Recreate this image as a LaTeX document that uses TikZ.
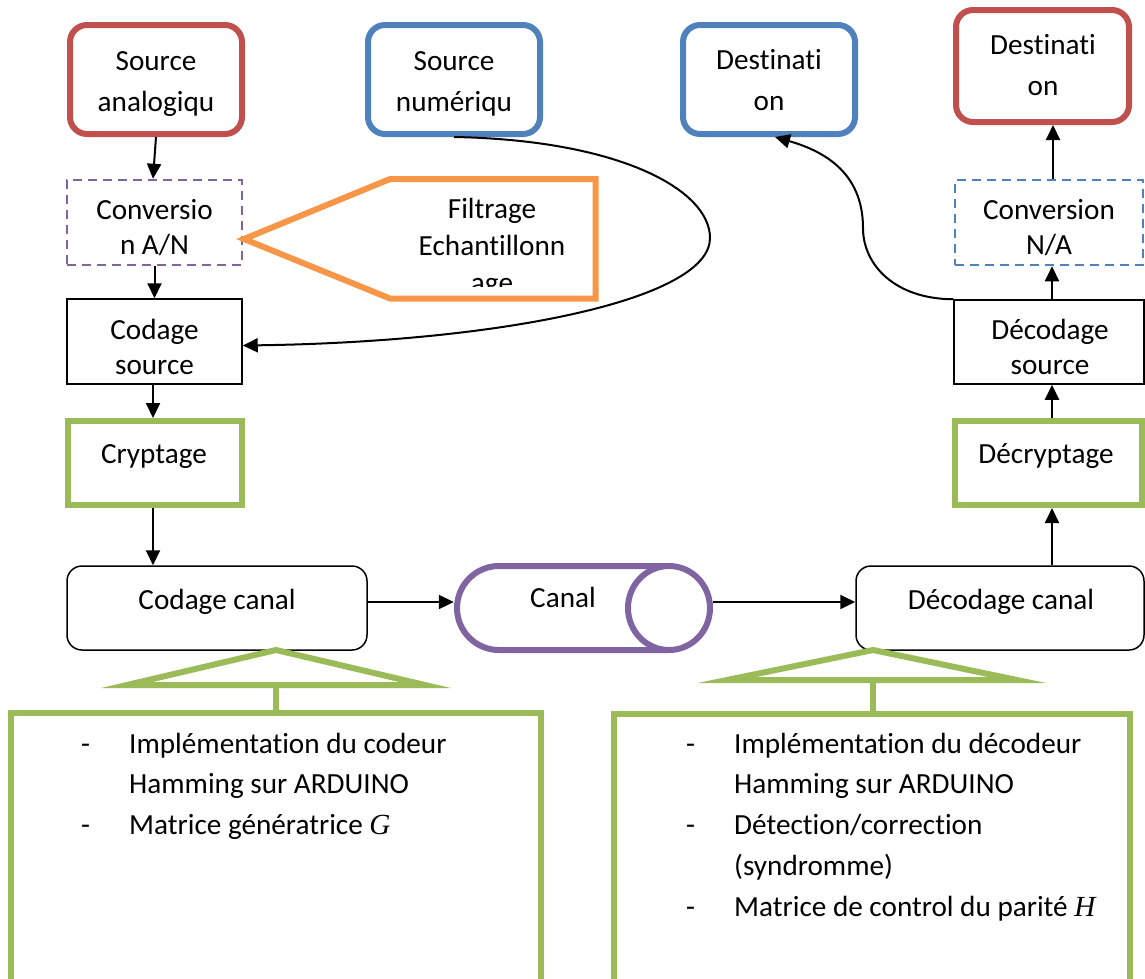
\documentclass[tikz,border=0pt]{standalone}
\usepackage{fontspec}
\setmainfont{Carlito}[Ligatures=NoCommon]
\newfontfamily\varfont{Liberation Serif}
\usetikzlibrary{arrows.meta}

\definecolor{cred}{HTML}{C0504D}
\definecolor{cblue}{HTML}{4F81BD}
\definecolor{cpurple}{HTML}{8064A2}
\definecolor{cgreen}{HTML}{9BBB59}
\definecolor{corange}{HTML}{F79646}

% stacked lines, baseline on the first one
\newcommand\stack[1]{\begin{tabular}[t]{@{}c@{}}#1\end{tabular}}
\newcommand\wide{\fontsize{29.2}{41}\selectfont}
\newcommand\tight{\fontsize{29.2}{35.5}\selectfont}

\begin{document}
\begin{tikzpicture}[x=1pt,y=-1pt,
  font=\tight,
  colbox/.style={draw, line width=6pt, rounded corners=17pt, inner sep=0pt, fill=white},
  greenbox/.style={draw=cgreen, line width=6pt, inner sep=0pt, fill=white},
  thinbox/.style={draw, line width=1.5pt, inner sep=0pt, fill=white},
  dashbox/.style={draw, line width=2.5pt, dash pattern=on 9pt off 6pt, inner sep=0pt, fill=white},
  arr/.style={-{Triangle[length=15pt,width=14pt]}, line width=2pt},
  lbl/.style={anchor=base, inner sep=0pt},
  callout/.style={draw=cgreen, line width=6pt},
  canalline/.style={draw=cpurple, line width=6pt}]

\fill[white] (0,0) rectangle (1145,978);
\useasboundingbox (0,0) rectangle (1145,978);

% ---------- emission chain ----------
\node[colbox, draw=cred, minimum width=172pt, minimum height=109pt] (srcA) at (156,79.5) {};
\node[colbox, draw=cblue, minimum width=172pt, minimum height=109pt] (srcN) at (454,79.5) {};
\node[dashbox, draw=cpurple, minimum width=175pt, minimum height=85pt] (convAN) at (154.5,222.5) {};
\node[thinbox, minimum width=175pt, minimum height=85pt] (codSrc) at (154.5,341.5) {};
\node[greenbox, minimum width=174pt, minimum height=84pt] (crypt) at (155,463) {};
\node[thinbox, rounded corners=15pt, minimum width=300pt, minimum height=84pt] (codCan) at (217,608) {};

% ---------- channel ----------
\node[inner sep=0pt, minimum width=259pt, minimum height=90pt] (canal) at (583.5,608) {};
\fill[white] (669,566) -- (499,566) arc[start angle=90, end angle=270, radius=42pt] -- (669,650) -- cycle;
\draw[canalline] (669,566) -- (499,566) arc[start angle=90, end angle=270, radius=42pt] -- (669,650);
\draw[canalline, fill=white] (669,608) ellipse [x radius=41pt, y radius=42pt];

% ---------- reception chain ----------
\node[thinbox, rounded corners=15pt, minimum width=288pt, minimum height=84pt] (decCan) at (1000,608) {};
\node[greenbox, minimum width=187pt, minimum height=84pt] (decrypt) at (1048.5,463) {};
\node[thinbox, minimum width=190pt, minimum height=84pt] (decSrc) at (1049,342) {};
\node[dashbox, draw=cblue, minimum width=188pt, minimum height=85pt] (convNA) at (1049,222.5) {};
\node[colbox, draw=cblue, minimum width=172pt, minimum height=109pt] (destB) at (769,79.5) {};
\node[colbox, draw=cred, minimum width=173pt, minimum height=112pt] (destR) at (1042.5,66) {};

% ---------- sampling note ----------
\coordinate (filtTip) at (244,239);
\draw[draw=corange, line width=6pt, fill=white] (filtTip) -- (390,179) -- (595.5,179) -- (595.5,298.5) -- (390,298.5) -- cycle;
\begin{scope}
  \clip (390,182) rectangle (592,286);
  \node[lbl, font=\fontsize{29.2}{37}\selectfont] (filt) at (492,218) {\stack{Filtrage\\Echantillonn\\age}};
\end{scope}

% ---------- labels ----------
\node[lbl, font=\wide] (tSrcA) at (156,70) {\stack{Source\\analogiqu}};
\node[lbl, font=\wide] (tSrcN) at (454,70) {\stack{Source\\numériqu}};
\node[lbl, font=\wide] (tDestB) at (769,69) {\stack{Destinati\\on}};
\node[lbl, font=\wide] (tDestR) at (1043,54) {\stack{Destinati\\on}};
\node[lbl] (tConvAN) at (154.5,219) {\stack{Conversio\\n A/N}};
\node[lbl] (tCodSrc) at (154.5,339) {\stack{Codage\\source}};
\node[lbl] (tCrypt) at (154,463) {Cryptage};
\node[lbl] (tCodCan) at (217,609) {Codage canal};
\node[lbl] (tCanal) at (563,607) {Canal};
\node[lbl] (tDecCan) at (1001,609) {Décodage canal};
\node[lbl] (tDecrypt) at (1046,463) {Décryptage};
\node[lbl] (tDecSrc) at (1050,339) {\stack{Décodage\\source}};
\node[lbl] (tConvNA) at (1049,219) {\stack{Conversion\\N/A}};

% ---------- connectors ----------
\draw[arr] (srcA.south) -- ([xshift=-1.5pt]convAN.north);
\draw[arr] (convAN.south) -- (codSrc.north);
\draw[arr] ([xshift=-1.5pt]codSrc.south) -- ([xshift=-2pt]crypt.north);
\draw[arr] ([xshift=-2pt]crypt.south) -- ([xshift=-2pt]crypt.south |- codCan.north);
\draw[arr] ([yshift=6pt]codCan.east) -- ([yshift=6pt]canal.west);
\draw[arr] ([yshift=6pt]canal.east) -- ([yshift=6pt]decCan.west);
\draw[arr] ([xshift=3.5pt]decrypt.south |- decCan.north) -- ([xshift=3.5pt]decrypt.south);
\draw[arr] ([xshift=3.5pt]decrypt.north) -- ([xshift=3.5pt]decrypt.north |- decSrc.south);
\draw[arr] ([xshift=3pt]decSrc.north) -- ([xshift=3pt]convNA.south);
\draw[arr] ([xshift=4pt]convNA.north) -- ([xshift=4pt]convNA.north |- destR.south);
\draw[arr] (srcN.south) .. controls (620,140) and (710,190) .. (710,238)
  .. controls (710,300) and (500,342) .. ([yshift=-4pt]codSrc.east);
\draw[arr] (decSrc.north west) .. controls (895,299) and (863,265) .. (863,228)
  .. controls (863,170) and (820,150) .. ([xshift=6pt]destB.south);

% ---------- Hamming notes ----------
\draw[callout] (127,685) -- (276,650) -- (425,685) -- cycle;
\draw[callout] (276,685) -- (276,713);
\node[greenbox, minimum width=530pt, minimum height=277pt] (noteL) at (276,851.5) {};
\node[anchor=base west, inner sep=0pt, font=\fontsize{29.2}{40.5}\selectfont] (listL) at (81,753)
  {\begin{tabular}[t]{@{}p{48pt}@{}l@{}}
   - & Implémentation du codeur\\
     & Hamming sur ARDUINO\\
   - & Matrice génératrice {\varfont\itshape G}
   \end{tabular}};

\draw[callout] (727,680) -- (873,650) -- (1017,680) -- cycle;
\draw[callout] (873,680) -- (873,714);
\node[greenbox, minimum width=516pt, minimum height=276pt] (noteR) at (872,852) {};
\node[anchor=base west, inner sep=0pt, font=\fontsize{29.2}{40.8}\selectfont] (listR) at (686,753)
  {\begin{tabular}[t]{@{}p{48pt}@{}l@{}}
   - & Implémentation du décodeur\\
     & Hamming sur ARDUINO\\
   - & Détection/correction\\
     & (syndromme)\\
   - & Matrice de control du parité {\varfont\itshape H}
   \end{tabular}};
\end{tikzpicture}
\end{document}
